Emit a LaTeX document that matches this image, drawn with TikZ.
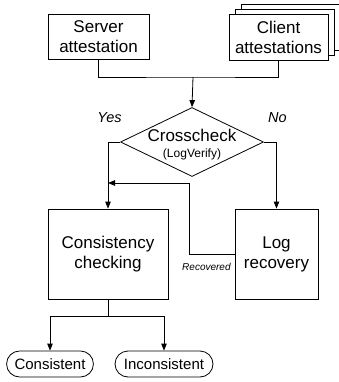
\documentclass[tikz,border=0pt]{standalone}
\usepackage{fontspec}
\setmainfont{Liberation Sans}
\usetikzlibrary{arrows.meta, positioning, shapes.geometric, shadows}

\begin{document}
\begin{tikzpicture}[
    x=1pt, y=-1pt,
    line width=0.8pt,
    font=\fontsize{17}{20}\selectfont,
    procbox/.style={rectangle, draw, fill=white, inner sep=0pt, align=center},
    decision/.style={diamond, draw, inner sep=0pt, minimum width=143pt, minimum height=69pt},
    terminal/.style={rectangle, draw, rounded corners=13pt, minimum height=26pt, inner xsep=8pt, inner ysep=0pt, font=\fontsize{15}{18}\selectfont},
    flow/.style={-{Triangle[length=7pt, width=5.5pt]}},
    answer/.style={font=\fontsize{14.5}{17}\itshape\selectfont}
]
\useasboundingbox (0,0) rectangle (339,382);

% Inputs
\node[procbox, minimum width=101pt, minimum height=45pt] (server) at (98.5,36.5) {Server\\attestation};
\node[procbox, minimum width=99pt, minimum height=46pt,
      double copy shadow={shadow xshift=6pt, shadow yshift=5pt, fill=white, draw}] (client) at (278.5,37) {Client\\attestations};

% Crosscheck
\node[decision] (check) at (192,142) {};
\node[align=center, inner sep=0pt] (checktext) at (192,145) {Crosscheck\\[-4pt]{\fontsize{12}{14}\selectfont (LogVerify)}};
\node[answer] (yes) at (109.5,118) {Yes};
\node[answer] (no) at (277.5,118) {No};

% Checking and recovery
\node[procbox, minimum width=120pt, minimum height=90pt] (consist) at (108,254) {Consistency\\checking};
\node[procbox, minimum width=83pt, minimum height=90pt] (logrec) at (276.5,254) {Log\\recovery};
\node[anchor=east, inner sep=0pt, font=\fontsize{10}{12}\itshape\selectfont] (recovered) at (231,267) {Recovered};

% Outcomes
\node[terminal, minimum width=86pt] (ok) at (50,364) {Consistent};
\node[terminal, minimum width=98pt] (bad) at (164,364) {Inconsistent};

% Connectors
\coordinate (join) at (193,77);
\draw (server.south) |- (join) -| (client.south);
\draw[flow] (join) -- (check.north);
\draw[flow] (check.west) -| (consist.north);
\draw[flow] (check.east) -| (logrec.north);

\coordinate (bend) at (189,183);
\coordinate (rejoin) at (108,183);
\draw[flow] (logrec.west) -| (bend) -- (rejoin);

\coordinate (split) at (108,316);
\draw (consist.south) -- (split);
\draw[flow] (split) -| (ok.north);
\draw[flow] (split) -| (bad.north);

\end{tikzpicture}
\end{document}
